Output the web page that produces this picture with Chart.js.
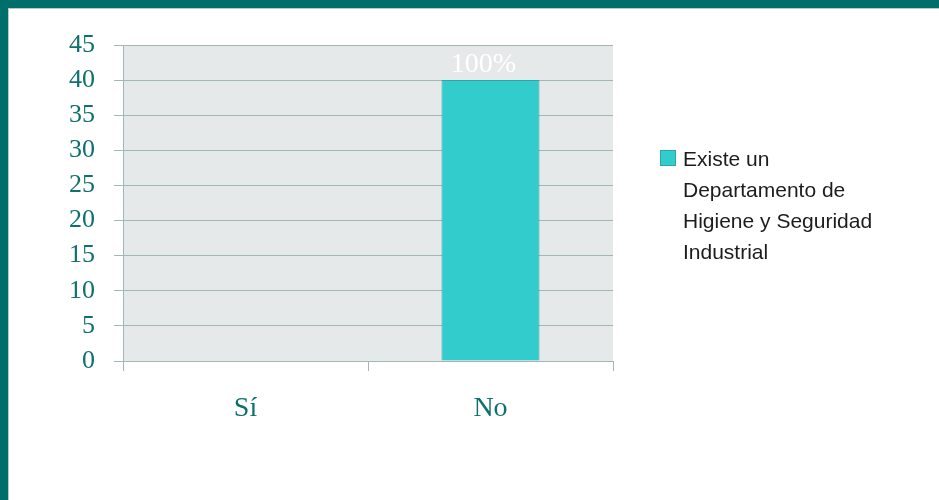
<!DOCTYPE html>
<html lang="es">
<head>
<meta charset="utf-8">
<title>Existe un Departamento de Higiene y Seguridad Industrial</title>
<script src="https://cdn.jsdelivr.net/npm/chart.js@4/dist/chart.umd.min.js"></script>
<style>
  html, body { margin: 0; padding: 0; background: #ffffff; }
  #wrap { position: relative; width: 939px; height: 500px; }
  canvas { display: block; }
</style>
</head>
<body>
<div id="wrap"><canvas id="chart" width="939" height="500"></canvas></div>
<script>
// Survey answers and counts
const categories = ['Sí', 'No'];
const counts = [0, 40];
const seriesLabel = 'Existe un Departamento de Higiene y Seguridad Industrial';
const legendLines = ['Existe un', 'Departamento de', 'Higiene y Seguridad', 'Industrial'];
const yMin = 0, yMax = 45, yStep = 5;

const TEAL = '#0e716e';
const BAR = '#33cccc';
const GRID = '#a3b7b5';
const SERIF = '"Liberation Serif", "DejaVu Serif", serif';
const SANS = '"Liberation Sans", Arial, sans-serif';

const total = counts.reduce((a, b) => a + b, 0);

// Slide frame, plot background, value labels and the side legend
const decor = {
  id: 'decor',
  beforeDraw(chart) {
    const { ctx, chartArea: a, width, height } = chart;
    ctx.save();
    ctx.fillStyle = '#ffffff';
    ctx.fillRect(0, 0, width, height);
    ctx.fillStyle = '#e5e9e9';
    ctx.fillRect(a.left, a.top, a.right - a.left, a.bottom - a.top);
    // frame bands
    ctx.fillStyle = '#006e6a';
    ctx.fillRect(0, 0, width, 8);
    ctx.fillRect(0, 0, 8, height);
    ctx.fillStyle = '#b9c9c7';
    ctx.fillRect(8, 8, width - 8, 1);
    ctx.fillRect(8, 8, 1, height - 8);
    ctx.restore();
  },
  afterDatasetsDraw(chart) {
    const { ctx } = chart;
    const meta = chart.getDatasetMeta(0);
    ctx.save();
    ctx.font = '28px ' + SERIF;
    ctx.fillStyle = '#ffffff';
    ctx.textAlign = 'center';
    ctx.textBaseline = 'alphabetic';
    meta.data.forEach((bar, i) => {
      const v = counts[i];
      if (!v) return;
      const pct = Math.round(v / total * 100) + '%';
      ctx.fillText(pct, bar.x - 7, bar.y - 8);
    });
    ctx.restore();
  },
  afterDraw(chart) {
    const { ctx } = chart;
    const ds = chart.data.datasets[0];
    ctx.save();
    ctx.fillStyle = ds.backgroundColor;
    ctx.fillRect(660, 150, 16, 16);
    ctx.strokeStyle = ds.borderColor;
    ctx.lineWidth = 1;
    ctx.strokeRect(660.5, 150.5, 15, 15);
    ctx.fillStyle = '#1c1c1c';
    ctx.font = '21px ' + SANS;
    ctx.textAlign = 'left';
    ctx.textBaseline = 'alphabetic';
    legendLines.forEach((t, i) => ctx.fillText(t, 683, 166 + i * 31));
    ctx.restore();
  }
};

new Chart(document.getElementById('chart'), {
  type: 'bar',
  data: {
    labels: categories,
    datasets: [{
      label: seriesLabel,
      data: counts,
      backgroundColor: BAR,
      borderColor: '#2aa7a7',
      borderWidth: 1,
      barPercentage: 0.4,
      categoryPercentage: 1
    }]
  },
  options: {
    responsive: false,
    animation: false,
    layout: { padding: { top: 45, right: 326, left: 0, bottom: 0 } },
    plugins: {
      legend: { display: false },
      tooltip: { enabled: false }
    },
    scales: {
      x: {
        afterFit(scale) { scale.height = 139; },
        grid: {
          offset: true,
          drawOnChartArea: false,
          drawTicks: true,
          tickLength: 10,
          color: GRID
        },
        border: { display: true, color: GRID },
        ticks: {
          font: { family: SERIF, size: 28 },
          color: TEAL,
          padding: 21
        }
      },
      y: {
        min: yMin,
        max: yMax,
        afterFit(scale) { scale.width = 123; },
        grid: {
          color: GRID,
          lineWidth: 1,
          drawTicks: true,
          tickLength: 9
        },
        border: { display: true, color: GRID },
        ticks: {
          stepSize: yStep,
          font: { family: SERIF, size: 26 },
          color: TEAL,
          padding: 19
        }
      }
    }
  },
  plugins: [decor]
});
</script>
</body>
</html>
